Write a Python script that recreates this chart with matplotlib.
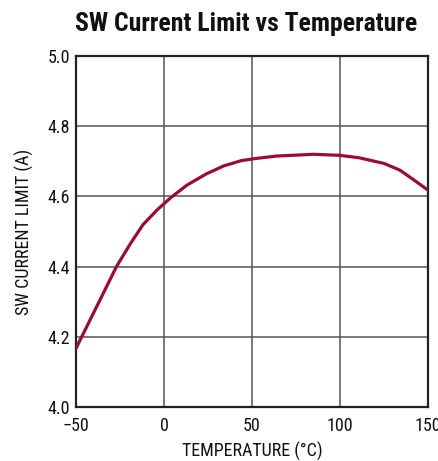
import numpy as np
import matplotlib
matplotlib.use('Agg')
import matplotlib.pyplot as plt
from matplotlib import font_manager

# values
temperature = [-50, -42, -34.5, -27, -19, -12, -4, 3.5, 13, 24, 34, 44, 52, 64, 85,
               100, 111, 125, 134, 142, 150]
current_limit = [4.167, 4.248, 4.324, 4.400, 4.466, 4.519, 4.561, 4.595, 4.632, 4.664,
                 4.687, 4.702, 4.708, 4.715, 4.720, 4.717, 4.710, 4.694, 4.675, 4.647, 4.618]

x_ticks = [-50, 0, 50, 100, 150]
x_tick_labels = ['\u221250', '0', '50', '100', '150']
y_ticks = [4.0, 4.2, 4.4, 4.6, 4.8, 5.0]
y_tick_labels = ['4.0', '4.2', '4.4', '4.6', '4.8', '5.0']

# pick a narrow sans if there is one
installed = set(f.name for f in font_manager.fontManager.ttflist)
narrow = [n for n in ['Liberation Sans Narrow', 'Roboto Condensed', 'Open Sans Condensed',
                      'Noto Sans Condensed', 'Arial Narrow'] if n in installed]
base = narrow[0] if narrow else 'Liberation Sans'
plt.rcParams['font.family'] = [base, 'DejaVu Sans']
sz = 13 if narrow else 12
tsz = 18.5 if narrow else 15

fig = plt.figure(figsize=(4.38, 4.61), dpi=100)
ax = fig.add_axes([0.1735, 0.1171, 0.8035, 0.7614])

ax.plot(temperature, current_limit, color='#9a0a3a', linewidth=2.3, zorder=3,
        solid_joinstyle='round')

ax.set_xlim(-50, 150)
ax.set_ylim(4.0, 5.0)
ax.set_xticks(x_ticks)
ax.set_xticklabels(x_tick_labels)
ax.set_yticks(y_ticks)
ax.set_yticklabels(y_tick_labels)
ax.tick_params(length=0, labelsize=sz, pad=4, colors='#111111')
ax.tick_params(axis='x', pad=7)
ax.grid(True, color='#555555', linewidth=1.1)

for s in ax.spines.values():
    s.set_linewidth(1.6)
    s.set_color('#222222')

ax.set_xlabel('TEMPERATURE (\u00b0C)', fontsize=sz, labelpad=5, color='#111111')
ax.set_ylabel('SW CURRENT LIMIT (A)', fontsize=sz, labelpad=10, color='#111111')
fig.text(0.562, 0.948, 'SW Current Limit vs Temperature', fontsize=tsz, fontweight='bold',
         ha='center', va='center', color='#111111')

fig.savefig('out.png', dpi=100)
